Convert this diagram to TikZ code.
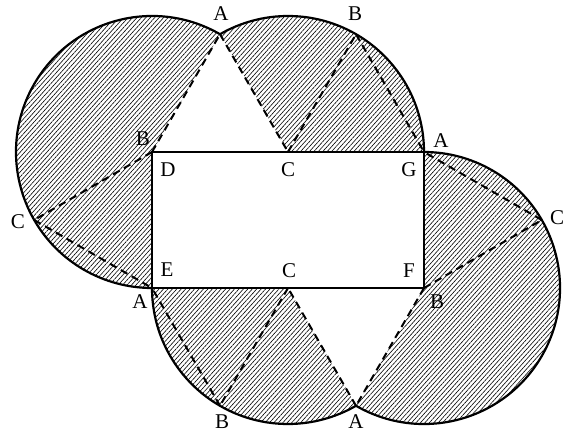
\documentclass[tikz,border=0pt]{standalone}
\usepackage{fontspec}
\setmainfont{Liberation Serif}
\usetikzlibrary{patterns.meta,calc}
\begin{document}
\begin{tikzpicture}[x=1pt,y=1pt,
  hatch/.style={pattern={Lines[angle=48,distance=3.3pt,line width=0.6pt]},pattern color=black},
  rim/.style={line width=2.2pt},
  side/.style={line width=1.1pt},
  fold/.style={line width=2pt,dash pattern=on 7.5pt off 5pt},
  lab/.style={font=\fontsize{21}{21}\selectfont,inner sep=0pt}]
\useasboundingbox (0,0) rectangle (569,436);
\def\r{136}
\coordinate (D) at (152,284);
\coordinate (Ct) at (288,284);
\coordinate (G) at (424,284);
\coordinate (E) at (152,148);
\coordinate (Cb) at (288,148);
\coordinate (F) at (424,148);
\coordinate (A1) at ($(D)+(60:\r)$);
\coordinate (B1) at ($(Ct)+(60:\r)$);
\coordinate (Cl) at ($(D)+(210:\r)$);
\coordinate (Cr) at ($(F)+(30:\r)$);
\coordinate (Ab) at ($(F)+(240:\r)$);
\coordinate (Bb) at ($(Cb)+(240:\r)$);
% hatched sectors
\fill[hatch] (D) -- (A1) arc[start angle=60,end angle=270,radius=\r] -- cycle;
\fill[hatch] (Ct) -- (G) arc[start angle=0,end angle=120,radius=\r] -- cycle;
\fill[hatch] (Cb) -- (E) arc[start angle=180,end angle=300,radius=\r] -- cycle;
\fill[hatch] (F) -- (Ab) arc[start angle=-120,end angle=90,radius=\r] -- cycle;
% rectangle
\draw[side] (D) -- (G) -- (F) -- (E) -- cycle;
% fold lines
\draw[fold] (D) -- (A1);
\draw[fold] (A1) -- (Ct);
\draw[fold] (Ct) -- (B1);
\draw[fold] (B1) -- (G);
\draw[fold] (D) -- (Cl);
\draw[fold] (Cl) -- (E);
\draw[fold] (F) -- (Cr);
\draw[fold] (Cr) -- (G);
\draw[fold] (F) -- (Ab);
\draw[fold] (Ab) -- (Cb);
\draw[fold] (Cb) -- (Bb);
\draw[fold] (Bb) -- (E);
% rims
\draw[rim] (A1) arc[start angle=60,end angle=270,radius=\r];
\draw[rim] (G) arc[start angle=0,end angle=120,radius=\r];
\draw[rim] (E) arc[start angle=180,end angle=300,radius=\r];
\draw[rim] (Ab) arc[start angle=-120,end angle=90,radius=\r];
% labels
\node[lab] (lA1) at (221,422) {A};
\node[lab] (lB1) at (355,422) {B};
\node[lab] (lAr) at (441,295) {A};
\node[lab] (lG) at (409,266) {G};
\node[lab] (lCt) at (288,266) {C};
\node[lab] (lD) at (168,266) {D};
\node[lab] (lBl) at (143,297) {B};
\node[lab] (lCl) at (18,214) {C};
\node[lab] (lE) at (167,166) {E};
\node[lab] (lAl) at (140,134) {A};
\node[lab] (lCb) at (289,165) {C};
\node[lab] (lF) at (409,165) {F};
\node[lab] (lBr) at (437,134) {B};
\node[lab] (lCr) at (557,218) {C};
\node[lab] (lBb) at (222,14) {B};
\node[lab] (lAb) at (356,14) {A};
\end{tikzpicture}
\end{document}
